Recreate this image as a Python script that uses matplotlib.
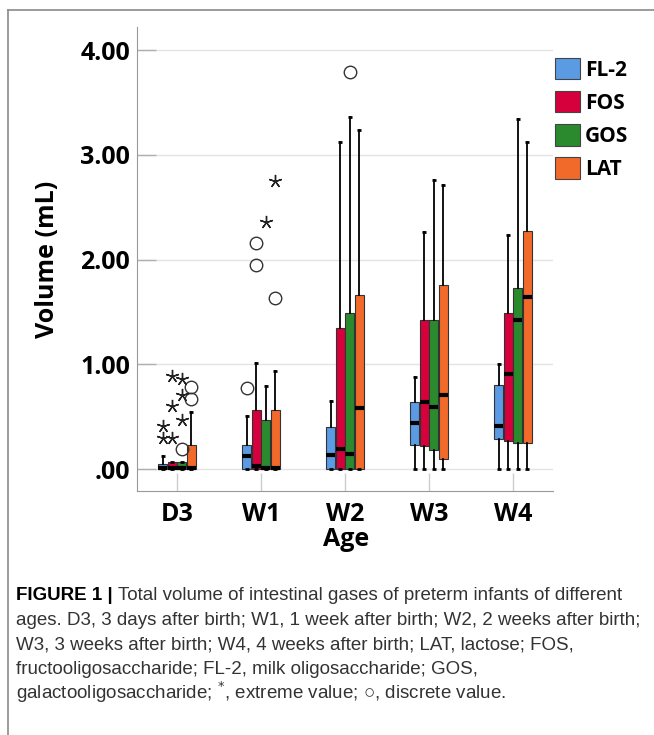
import numpy as np
import matplotlib
matplotlib.use('Agg')
import matplotlib.pyplot as plt
from matplotlib.patches import Patch
from matplotlib.lines import Line2D

ages = ['D3', 'W1', 'W2', 'W3', 'W4']
sugars = ['FL-2', 'FOS', 'GOS', 'LAT']
colors = ['#5A9BE4', '#D6003C', '#2B8A2E', '#F26A2A']

# box statistics, one row per sugar (FL-2, FOS, GOS, LAT), one column per age
whislo = [[0, 0, 0, 0, 0],
          [0, 0, 0, 0, 0],
          [0, 0, 0, 0, 0],
          [0, 0, 0, 0, 0]]
q1 = [[0, 0, 0, 0.23, 0.29],
      [0, 0, 0, 0.22, 0.27],
      [0, 0, 0, 0.18, 0.25],
      [0, 0, 0, 0.10, 0.25]]
med = [[0.01, 0.12, 0.13, 0.44, 0.41],
       [0.01, 0.03, 0.19, 0.64, 0.91],
       [0.01, 0.01, 0.14, 0.59, 1.42],
       [0.01, 0.01, 0.58, 0.71, 1.64]]
q3 = [[0.05, 0.23, 0.40, 0.64, 0.80],
      [0.07, 0.56, 1.35, 1.42, 1.49],
      [0.065, 0.47, 1.49, 1.42, 1.73],
      [0.23, 0.56, 1.66, 1.76, 2.27]]
whishi = [[0.12, 0.51, 0.65, 0.88, 1.00],
          [0.07, 1.01, 3.12, 2.26, 2.23],
          [0.065, 0.79, 3.36, 2.76, 3.34],
          [0.54, 0.94, 3.24, 2.71, 3.12]]

# discrete values (circles)
circ_sugar = [0, 1, 1, 2, 2, 3, 3, 3]
circ_age = [1, 1, 1, 0, 2, 0, 0, 1]
circ_val = [0.77, 2.16, 1.95, 0.195, 3.79, 0.78, 0.67, 1.63]

# extreme values (stars)
star_sugar = [0, 0, 1, 1, 1, 2, 2, 2, 2, 3]
star_age = [0, 0, 0, 0, 0, 0, 0, 0, 1, 1]
star_val = [0.41, 0.30, 0.89, 0.60, 0.30, 0.86, 0.71, 0.47, 2.36, 2.75]

caption_head = 'FIGURE 1 |'
caption_lines = [
    'Total volume of intestinal gases of preterm infants of different',
    'ages. D3, 3 days after birth; W1, 1 week after birth; W2, 2 weeks after birth;',
    'W3, 3 weeks after birth; W4, 4 weeks after birth; LAT, lactose; FOS,',
    'fructooligosaccharide; FL-2, milk oligosaccharide; GOS,',
    'galactooligosaccharide; $^{*}$, extreme value; \u25cb, discrete value.',
]

W, H = 654, 735
bold_font = ['Open Sans', 'DejaVu Sans']
cap_font = ['Liberation Sans', 'DejaVu Sans']

fig = plt.figure(figsize=(W / 100, H / 100), dpi=100)
ax = fig.add_axes([137 / W, 1 - 491 / H, 416 / W, 464 / H])

offsets = [-0.17, -0.057, 0.057, 0.17]
for s in range(4):
    stats = []
    for a in range(5):
        stats.append(dict(whislo=whislo[s][a], q1=q1[s][a], med=med[s][a],
                          q3=q3[s][a], whishi=whishi[s][a], fliers=[]))
    pos = np.arange(5) + offsets[s]
    ax.bxp(stats, positions=pos, widths=0.105, capwidths=0.045,
           patch_artist=True, showfliers=False, manage_ticks=False,
           boxprops=dict(facecolor=colors[s], edgecolor='#333333', linewidth=0.8),
           medianprops=dict(color='black', linewidth=3, solid_capstyle='butt'),
           whiskerprops=dict(color='black', linewidth=1.3),
           capprops=dict(color='black', linewidth=2, solid_capstyle='butt'))

cx = np.array(circ_age) + np.array(offsets)[circ_sugar]
ax.plot(cx, circ_val, 'o', mfc='none', mec='#333333', ms=9, mew=1, zorder=5)
sx = np.array(star_age) + np.array(offsets)[star_sugar]
ax.plot(sx, star_val, ls='none', marker=(5, 2, 0), color='#222222', ms=9.5, mew=1, zorder=5)

ax.set_xlim(-0.476, 4.476)
ax.set_ylim(-0.21, 4.22)
ax.set_xticks(range(5))
ax.set_xticklabels(ages, fontsize=18, fontweight='bold', family=bold_font)
ax.set_yticks([0, 1, 2, 3, 4])
ax.set_yticklabels(['.00', '1.00', '2.00', '3.00', '4.00'], fontsize=18,
                   fontweight='bold', family=bold_font)
ax.tick_params(axis='y', direction='in', length=14, color='#b0b0b0', width=1, pad=5)
ax.tick_params(axis='x', direction='in', length=13, color='#cccccc', width=1, pad=8)
ax.set_axisbelow(True)
ax.yaxis.grid(True, color='#e4e4e4', lw=1)
for sp in ['top', 'right']:
    ax.spines[sp].set_visible(False)
for sp in ['left', 'bottom']:
    ax.spines[sp].set_color('#999999')

fig.text(48 / W, 1 - 259 / H, 'Volume (mL)', rotation=90, ha='center', va='center',
         fontsize=18, fontweight='bold', family=bold_font)
fig.text(346 / W, 1 - 540 / H, 'Age', ha='center', va='center',
         fontsize=18, fontweight='bold', family=bold_font)

handles = [Patch(facecolor=c, edgecolor='#444444', linewidth=0.8) for c in colors]
fig.legend(handles, sugars, loc='upper left', bbox_to_anchor=(555 / W, 1 - 58 / H),
           frameon=False, borderpad=0, borderaxespad=0, handlelength=1.2,
           handleheight=1.2, labelspacing=0.5, handletextpad=0.25,
           prop=dict(family=bold_font, weight='bold', size=15))

# frame lines around the figure
fig.add_artist(Line2D([8 / W, 1], [1 - 10 / H] * 2, color='#8a8a8a', lw=1.2))
fig.add_artist(Line2D([8 / W] * 2, [0, 1 - 10 / H], color='#8a8a8a', lw=1.2))

# caption
r = fig.canvas.get_renderer()
cap_size = 13.5
head = fig.text(16 / W, 1 - 600 / H, caption_head, fontsize=cap_size, fontweight='bold',
                family=cap_font, color='black', va='baseline')
x1 = head.get_window_extent(r).x1
for i, line in enumerate(caption_lines):
    x = (x1 + 5) / W if i == 0 else 16 / W
    fig.text(x, 1 - (600 + 24.75 * i) / H, line, fontsize=cap_size, family=cap_font,
             color='#333333', va='baseline')

fig.savefig('out.png', dpi=100)
